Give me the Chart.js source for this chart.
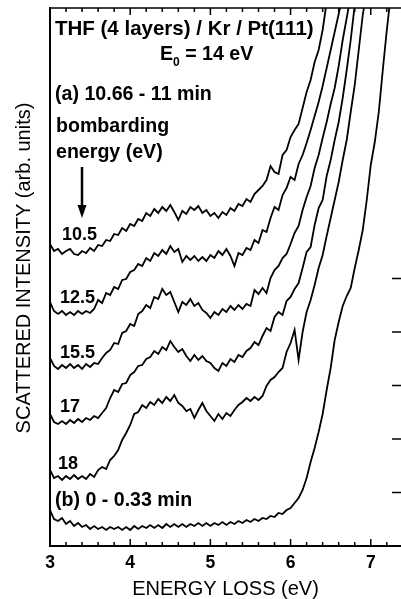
<!DOCTYPE html>
<html>
<head>
<meta charset="utf-8">
<script src="https://cdn.jsdelivr.net/npm/chart.js@4.4.1/dist/chart.umd.min.js"></script>
<style>
  html, body { margin: 0; padding: 0; background: #fff; }
  canvas { display: block; }
</style>
</head>
<body>
<canvas id="eelsChart" width="401" height="599"></canvas>
<script>
// energy loss grid (eV), shared by every spectrum
const energy = [
  3.00, 3.05, 3.10, 3.15, 3.20, 3.25, 3.30, 3.35, 3.40, 3.45,
  3.50, 3.55, 3.60, 3.65, 3.70, 3.75, 3.80, 3.85, 3.90, 3.95,
  4.00, 4.05, 4.10, 4.15, 4.20, 4.25, 4.30, 4.35, 4.40, 4.45,
  4.50, 4.55, 4.60, 4.65, 4.70, 4.75, 4.80, 4.85, 4.90, 4.95,
  5.00, 5.05, 5.10, 5.15, 5.20, 5.25, 5.30, 5.35, 5.40, 5.45,
  5.50, 5.55, 5.60, 5.65, 5.70, 5.75, 5.80, 5.85, 5.90, 5.95,
  6.00, 6.05, 6.10, 6.15, 6.20, 6.25, 6.30, 6.35, 6.40, 6.45,
  6.50, 6.55, 6.60, 6.65, 6.70, 6.75, 6.80, 6.85, 6.90, 6.95,
  7.00, 7.05, 7.10, 7.15, 7.20, 7.25
];

// scattered intensity (arb. units, offset spectra) - bombarding energy 10.5 eV
const s105 = [
  30.2, 29.5, 29.7, 29.2, 29.5, 29.7, 29.2, 29.1, 29.5, 29.3,
  29.8, 29.5, 30.1, 30.0, 30.6, 30.5, 31.2, 31.1, 31.8, 31.5,
  32.2, 32.0, 32.7, 32.5, 33.3, 33.0, 33.7, 33.3, 33.9, 33.5,
  34.1, 33.4, 32.6, 33.5, 33.2, 33.9, 33.6, 34.0, 33.3, 33.6,
  33.0, 33.3, 32.8, 33.4, 33.1, 33.8, 33.5, 34.2, 34.0, 34.7,
  34.4, 35.2, 35.6, 36.0, 36.6, 38.0, 37.4, 37.2, 39.1, 39.6,
  40.9, 41.6, 42.2, 43.8, 45.4, 46.6, 48.4, 49.6, 51.6, 54.4,
  57.0
];
// 12.5 eV
const s125 = [
  24.4, 23.5, 23.2, 23.5, 23.1, 23.4, 23.1, 23.5, 23.2, 23.5,
  23.3, 23.7, 24.6, 24.3, 25.3, 25.1, 25.9, 25.7, 26.6, 26.7,
  27.4, 27.6, 28.2, 28.0, 28.8, 28.5, 29.3, 29.0, 29.6, 29.2,
  30.0, 29.4, 29.7, 28.4, 29.0, 28.6, 29.0, 28.5, 28.9, 28.5,
  29.1, 28.8, 29.5, 29.1, 29.7, 29.0, 28.0, 29.3, 29.1, 29.8,
  29.6, 30.6, 30.3, 31.6, 31.4, 32.8, 33.9, 33.6, 35.1, 35.8,
  36.9, 36.6, 38.2, 39.1, 40.3, 41.6, 43.0, 44.4, 46.0, 47.8,
  49.6, 51.4, 53.2, 55.1
];
// 15.5 eV
const s155 = [
  18.8, 18.0, 17.7, 18.1, 17.8, 18.2, 17.8, 18.1, 17.7, 18.2,
  17.9, 18.3, 18.2, 18.8, 19.3, 19.6, 20.3, 20.2, 21.3, 21.5,
  22.2, 22.0, 23.2, 23.5, 24.1, 23.8, 24.9, 24.7, 25.7, 25.1,
  25.4, 24.4, 23.4, 24.4, 24.1, 24.7, 24.0, 24.3, 23.6, 23.3,
  22.8, 23.4, 23.1, 23.7, 23.4, 24.0, 23.6, 24.1, 23.7, 24.2,
  24.0, 25.6, 25.2, 25.8, 25.3, 26.8, 27.6, 28.0, 28.8, 29.2,
  30.2, 31.3, 32.0, 33.6, 34.9, 36.0, 37.8, 39.1, 40.8, 42.4,
  44.2, 45.8, 48.0, 50.6, 52.8, 55.1
];
// 17 eV
const s17 = [
  13.2, 12.4, 12.2, 12.5, 12.2, 12.6, 12.3, 12.7, 12.4, 12.8,
  12.6, 13.0, 12.8, 13.3, 13.8, 14.8, 15.6, 15.4, 16.2, 16.3,
  17.1, 17.4, 18.0, 18.1, 18.7, 18.9, 19.5, 19.2, 19.9, 19.6,
  20.5, 19.9, 19.4, 19.7, 19.0, 18.5, 19.1, 18.6, 19.0, 18.5,
  18.3, 17.8, 17.5, 18.3, 18.0, 18.7, 18.4, 19.1, 18.9, 19.5,
  19.8, 20.4, 20.1, 21.0, 21.8, 21.5, 22.9, 23.4, 23.1, 24.5,
  24.9, 25.7, 26.3, 27.8, 29.4, 29.9, 32.1, 33.8, 34.6, 37.0,
  38.6, 40.6, 42.4, 44.8, 47.6, 50.6, 54.1, 56.0
];
// 18 eV
const s18 = [
  7.6, 6.8, 7.0, 6.6, 7.0, 6.7, 7.1, 6.7, 7.0, 6.7,
  7.2, 6.9, 7.6, 7.9, 7.7, 8.6, 9.0, 9.6, 10.6, 11.3,
  12.1, 13.2, 13.4, 14.1, 13.8, 14.4, 14.1, 14.7, 14.3, 14.9,
  14.5, 15.1, 14.3, 14.0, 13.5, 13.7, 12.8, 13.6, 14.3, 13.5,
  13.0, 12.5, 13.2, 12.7, 13.3, 13.0, 13.6, 14.1, 14.4, 14.8,
  14.5, 14.9, 14.6, 15.0, 16.0, 16.6, 16.9, 17.4, 17.8, 19.4,
  20.3, 21.6, 18.6, 21.4, 23.4, 24.6, 26.1, 27.8, 29.1, 31.0,
  32.8, 34.6, 36.4, 38.6, 40.6, 43.4, 46.1, 49.6, 53.1, 55.6
];
// (b) 0 - 0.33 min
const sInitial = [
  3.6, 2.7, 2.5, 2.8, 2.2, 2.5, 2.0, 2.3, 1.9, 2.1,
  1.7, 2.0, 1.7, 1.9, 1.6, 1.9, 1.7, 1.9, 1.6, 1.9,
  1.6, 2.0, 1.7, 2.0, 1.8, 2.1, 1.8, 2.1, 1.8, 2.2,
  1.9, 2.2, 1.9, 2.2, 1.9, 2.2, 2.0, 2.3, 2.0, 2.3,
  2.0, 2.3, 2.1, 2.4, 2.1, 2.4, 2.2, 2.5, 2.3, 2.6,
  2.4, 2.7, 2.5, 2.8, 2.7, 3.0, 2.9, 3.3, 3.2, 3.6,
  3.8, 4.3, 4.8, 5.6, 6.8, 8.4, 9.8, 11.4, 13.2, 15.6,
  17.8, 20.6, 22.4, 24.0, 25.0, 25.8, 27.8, 29.6, 31.6, 34.6,
  38.1, 40.4, 43.4, 47.6, 51.6, 55.1
];

const spectra = [s105, s125, s155, s17, s18, sInitial];
const curveLabels = ['10.5', '12.5', '15.5', '17', '18'];
const rightTicks = [5.35, 10.7, 16.05, 21.4, 26.75];

const FONT = "'Liberation Sans', Arial, sans-serif";

const frameAndText = {
    id: 'frameAndText',
    afterDraw(chart) {
        const ctx = chart.ctx;
        const a = chart.chartArea;
        const x = chart.scales.x;
        const y = chart.scales.y;
        ctx.save();
        ctx.strokeStyle = '#000';
        ctx.fillStyle = '#000';

        // top frame + inward ticks
        ctx.lineWidth = 1.5;
        ctx.beginPath();
        ctx.moveTo(a.left, a.top);
        ctx.lineTo(a.right, a.top);
        x.ticks.forEach(t => {
            const px = x.getPixelForValue(t.value);
            const major = Math.abs(t.value - Math.round(t.value)) < 1e-6;
            const len = major ? 7 : 4;
            ctx.moveTo(px, a.bottom);
            ctx.lineTo(px, a.bottom - len);
            ctx.moveTo(px, a.top);
            ctx.lineTo(px, a.top + len);
        });
        rightTicks.forEach(v => {
            const py = y.getPixelForValue(v);
            ctx.moveTo(a.right, py);
            ctx.lineTo(a.right - 9, py);
        });
        ctx.stroke();

        // y axis title
        ctx.save();
        ctx.translate(24, 268);
        ctx.rotate(-Math.PI / 2);
        ctx.textAlign = 'center';
        ctx.textBaseline = 'middle';
        ctx.font = '20px ' + FONT;
        ctx.fillText('SCATTERED INTENSITY (arb. units)', 0, 0);
        ctx.restore();

        // annotations
        ctx.textAlign = 'left';
        ctx.textBaseline = 'alphabetic';
        ctx.font = 'bold 20.5px ' + FONT;
        ctx.fillText('THF (4 layers) / Kr / Pt(111)', 55, 34.5);
        ctx.font = 'bold 19.6px ' + FONT;
        ctx.fillText('E', 160, 60);
        const eW = ctx.measureText('E').width;
        ctx.font = 'bold 12px ' + FONT;
        ctx.fillText('0', 160 + eW, 66);
        const zW = ctx.measureText('0').width;
        ctx.font = 'bold 19.6px ' + FONT;
        ctx.fillText(' = 14 eV', 160 + eW + zW, 60);
        ctx.fillText('(a) 10.66 - 11 min', 55, 99.5);
        ctx.fillText('bombarding', 56, 132);
        ctx.fillText('energy (eV)', 56, 157.5);
        ctx.fillText('(b) 0 - 0.33 min', 55, 506);

        ctx.font = 'bold 18px ' + FONT;
        const labelPos = [[62, 240], [60, 303], [60, 358], [60, 412], [58, 469]];
        curveLabels.forEach((t, i) => ctx.fillText(t, labelPos[i][0], labelPos[i][1]));

        // arrow
        ctx.lineWidth = 2.5;
        ctx.beginPath();
        ctx.moveTo(82, 167);
        ctx.lineTo(82, 208);
        ctx.stroke();
        ctx.beginPath();
        ctx.moveTo(77.5, 205);
        ctx.lineTo(86.5, 205);
        ctx.lineTo(82, 218);
        ctx.closePath();
        ctx.fill();
        ctx.restore();
    }
};

Chart.defaults.color = '#000';
Chart.defaults.font.family = FONT;

new Chart(document.getElementById('eelsChart').getContext('2d'), {
    type: 'line',
    data: {
        datasets: spectra.map(vals => ({
            data: vals.map((v, i) => ({ x: energy[i], y: v })),
            borderColor: '#000',
            borderWidth: 1.8,
            pointRadius: 0,
            tension: 0,
            fill: false
        }))
    },
    options: {
        responsive: false,
        animation: false,
        devicePixelRatio: 1,
        layout: { padding: { top: 8, right: 0, left: 0, bottom: 0 } },
        plugins: { legend: { display: false }, tooltip: { enabled: false } },
        scales: {
            x: {
                type: 'linear',
                min: 3,
                max: 7.377,
                grid: { display: false, drawTicks: false },
                border: { display: true, color: '#000', width: 2 },
                ticks: {
                    stepSize: 0.2,
                    includeBounds: false,
                    autoSkip: false,
                    maxRotation: 0,
                    padding: 7,
                    font: { size: 17.5, weight: 'bold' },
                    callback: v => Math.abs(v - Math.round(v)) < 1e-6 ? String(Math.round(v)) : ''
                },
                title: {
                    display: true,
                    text: 'ENERGY LOSS (eV)',
                    padding: 0,
                    font: { size: 20, lineHeight: 1 }
                },
                afterFit: s => { s.height = 53; }
            },
            y: {
                min: 0,
                max: 53.8,
                grid: { display: false, drawTicks: false },
                border: { display: true, color: '#000', width: 2 },
                ticks: { display: false },
                afterFit: s => { s.width = 50; }
            }
        }
    },
    plugins: [frameAndText]
});
</script>
</body>
</html>
